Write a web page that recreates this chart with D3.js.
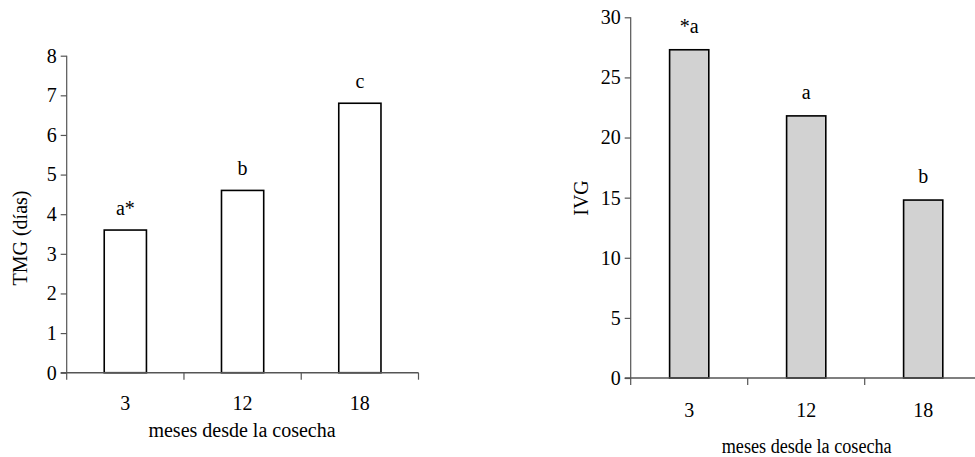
<!DOCTYPE html>
<html>
<head>
<meta charset="utf-8">
<script src="https://cdn.jsdelivr.net/npm/d3@7"></script>
<style>
  body { margin: 0; background: #fff; }
</style>
</head>
<body>
<svg id="chart" width="975" height="457"></svg>
<script>
// data
const months = ["3", "12", "18"];
const tmgValues = [3.6, 4.6, 6.8];
const tmgLetters = ["a*", "b", "c"];
const ivgValues = [27.3, 21.8, 14.8];
const ivgLetters = ["*a", "a", "b"];
const tmgTicks = [0, 1, 2, 3, 4, 5, 6, 7, 8];
const ivgTicks = [0, 5, 10, 15, 20, 25, 30];

const FONT = "'Liberation Serif', 'Times New Roman', Times, 'DejaVu Serif', serif";
const FS = "20px";

const svg = d3.select("#chart");

function drawPanel(opts) {
  const g = svg.append("g").attr("font-family", FONT);
  const x = d3.scaleBand().domain(months).range([opts.x0, opts.x1]).padding(0);
  const y = d3.scaleLinear().domain(opts.domain).range([opts.y0, opts.y1]);
  const barW = x.bandwidth() * opts.barFrac;

  // bars
  g.selectAll("rect.bar")
    .data(opts.values)
    .join("rect")
    .attr("class", "bar")
    .attr("x", (d, i) => x(months[i]) + (x.bandwidth() - barW) / 2)
    .attr("y", d => y(d))
    .attr("width", barW)
    .attr("height", d => y(0) - y(d))
    .attr("fill", opts.fill)
    .attr("stroke", "#000")
    .attr("stroke-width", 1.6);

  // letters above bars
  g.selectAll("text.letter")
    .data(opts.values)
    .join("text")
    .attr("class", "letter")
    .attr("x", (d, i) => x(months[i]) + x.bandwidth() / 2)
    .attr("y", d => y(d) - opts.letterGap)
    .attr("text-anchor", "middle")
    .style("font-family", FONT)
    .style("font-size", FS)
    .text((d, i) => opts.letters[i]);

  // y axis
  const yAxis = g.append("g")
    .attr("transform", `translate(${opts.x0},0)`)
    .call(d3.axisLeft(y).tickValues(opts.ticks).tickSize(6).tickSizeOuter(0).tickPadding(4));
  yAxis.select(".domain").remove();
  yAxis.selectAll(".tick line").attr("stroke", "#555").attr("stroke-width", 1.2);
  yAxis.selectAll(".tick text").attr("fill", "#000")
    .style("font-size", FS).style("font-family", FONT);
  g.append("line")
    .attr("x1", opts.x0).attr("x2", opts.x0)
    .attr("y1", y(opts.domain[1])).attr("y2", y(0) + 7)
    .attr("stroke", "#555").attr("stroke-width", 1.2);

  // x axis
  g.append("line")
    .attr("x1", opts.x0 - 6).attr("x2", opts.x1)
    .attr("y1", y(0)).attr("y2", y(0))
    .attr("stroke", "#555").attr("stroke-width", 1.4);
  const bounds = months.map(m => x(m)).concat([opts.x1]).slice(1);
  g.selectAll("line.xtick")
    .data(bounds)
    .join("line")
    .attr("class", "xtick")
    .attr("x1", d => d).attr("x2", d => d)
    .attr("y1", y(0)).attr("y2", y(0) + 7)
    .attr("stroke", "#555").attr("stroke-width", 1.2);
  g.selectAll("text.xlab")
    .data(months)
    .join("text")
    .attr("class", "xlab")
    .attr("x", d => x(d) + x.bandwidth() / 2)
    .attr("y", opts.xLabY)
    .attr("text-anchor", "middle")
    .style("font-family", FONT)
    .style("font-size", FS)
    .text(d => d);

  // titles
  const xt = g.append("text")
    .attr("x", opts.xTitleX)
    .attr("y", opts.xTitleY)
    .attr("text-anchor", "middle")
    .style("font-family", FONT)
    .style("font-size", FS)
    .text("meses desde la cosecha");
  if (opts.xTitleLen) xt.attr("textLength", opts.xTitleLen).attr("lengthAdjust", "spacingAndGlyphs");

  g.append("text")
    .attr("transform", `translate(${opts.yTitleX},${opts.yTitleY}) rotate(-90)`)
    .attr("text-anchor", "middle")
    .style("font-family", FONT)
    .style("font-size", FS)
    .text(opts.yTitle);
}

drawPanel({
  x0: 66.7, x1: 418.5, y0: 372.7, y1: 55.7,
  domain: [0, 8], ticks: tmgTicks,
  values: tmgValues, letters: tmgLetters,
  barFrac: 0.36, fill: "#fff", letterGap: 15,
  xLabY: 410, xTitleX: 242, xTitleY: 437, yTitleX: 27, yTitleY: 238,
  yTitle: "TMG (días)"
});

drawPanel({
  x0: 630.7, x1: 981.7, y0: 378, y1: 17.3,
  domain: [0, 30], ticks: ivgTicks,
  values: ivgValues, letters: ivgLetters,
  barFrac: 0.335, fill: "#d2d2d2", letterGap: 17,
  xLabY: 417, xTitleY: 453, xTitleX: 806.7, xTitleLen: 170,
  yTitleX: 588, yTitleY: 198,
  yTitle: "IVG"
});
</script>
</body>
</html>
